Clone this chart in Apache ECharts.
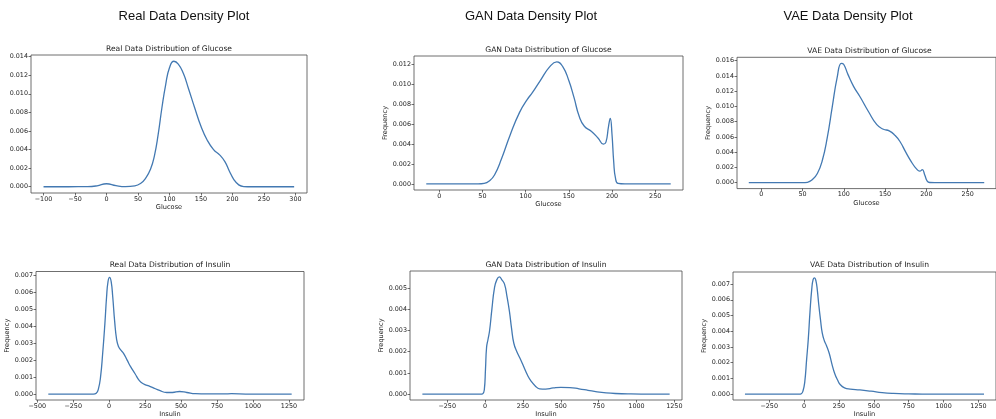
<!DOCTYPE html>
<html>
<head>
<meta charset="utf-8">
<script src="https://cdn.jsdelivr.net/npm/echarts@6/dist/echarts.min.js"></script>
<style>
  html, body { margin: 0; padding: 0; background: #fff; }
  #chart { width: 996px; height: 419px; }
</style>
</head>
<body>
<div id="chart"></div>
<script>
// data (kde curves)
var realGlucoseX = [-100,-60,-30,-15,0,15,30,45,55,62,70,76,82,88,94,100,107,114,122,130,140,150,160,170,180,188,195,202,210,218,230,260,298];
var realGlucoseY = [0,0,0.00001,0.0001,0.00032,0.00012,0.00002,0.0001,0.0004,0.0009,0.0019,0.0033,0.0056,0.0085,0.011,0.0128,0.0135,0.0132,0.0122,0.0106,0.0085,0.0065,0.005,0.0040,0.0034,0.0027,0.0017,0.0008,0.0002,0.00002,0,0,0];

var ganGlucoseX = [-15,20,45,52,58,64,72,82,93,102,108,117,128,136,143,150,156,162,168,176,184,190,193,196,198,200,202,204,207,215,268];
var ganGlucoseY = [0,0,0,0.00005,0.0003,0.0009,0.0025,0.0049,0.0072,0.0085,0.0092,0.0104,0.0118,0.01228,0.0118,0.0104,0.0087,0.0068,0.0058,0.0053,0.0046,0.0040,0.0042,0.0058,0.0066,0.0050,0.0022,0.0006,0.00005,0,0];

var vaeGlucoseX = [-15,20,50,56,62,68,74,80,86,92,97,100,105,112,120,130,140,148,155,162,168,175,182,188,192,195,198,201,204,210,270];
var vaeGlucoseY = [0,0,0,0.00005,0.0004,0.0012,0.0029,0.0059,0.0099,0.0138,0.01565,0.0155,0.0142,0.0126,0.0112,0.0093,0.0076,0.0070,0.0068,0.0062,0.0054,0.0040,0.0027,0.0018,0.0015,0.0017,0.0010,0.0002,0.00002,0,0];

var realInsulinX = [-423,-200,-110,-90,-75,-60,-45,-30,-18,-8,3,14,25,38,52,65,80,100,125,150,180,210,240,270,300,350,400,440,490,540,600,680,800,850,950,1100,1269];
var realInsulinY = [0,0,0,0.00005,0.0003,0.0010,0.0024,0.0041,0.0057,0.0066,0.00685,0.0066,0.0057,0.0043,0.0032,0.0028,0.0026,0.0024,0.0020,0.0016,0.0012,0.0008,0.0006,0.0005,0.0004,0.00022,0.0001,0.0001,0.00016,0.0001,0.00003,0.00002,0.00002,0.00003,0.00001,0,0];

var ganInsulinX = [-414,-100,-30,-15,-5,3,10,20,30,45,62,78,95,110,128,145,161,175,190,210,230,255,280,305,330,360,400,450,500,560,620,680,740,800,860,950,1100,1219];
var ganInsulinY = [0,0,0,0.00002,0.0002,0.0012,0.0022,0.0026,0.0030,0.0040,0.0050,0.0054,0.00553,0.0054,0.0052,0.0046,0.0039,0.0031,0.0024,0.0020,0.0017,0.0013,0.0009,0.0006,0.0004,0.00025,0.00024,0.00029,0.00032,0.00031,0.00025,0.00018,0.00011,0.00006,0.00003,0.00001,0,0];

var vaeInsulinX = [-424,-100,-35,-20,-8,5,18,30,42,55,65,75,85,95,105,118,130,145,160,180,200,220,240,260,290,330,400,480,560,640,750,900,1100,1290];
var vaeInsulinY = [0,0,0,0.00003,0.0002,0.0008,0.0022,0.0035,0.0052,0.0067,0.0073,0.0074,0.0072,0.0066,0.0057,0.0047,0.0039,0.0034,0.0031,0.0026,0.0019,0.0013,0.0009,0.0006,0.0004,0.00032,0.00027,0.00019,0.0001,0.00005,0.00002,0,0,0];

// tick labels
var glucoseTicksA = [-100,-50,0,50,100,150,200,250,300];
var glucoseTicksB = [0,50,100,150,200,250];
var insulinTicksA = [-500,-250,0,250,500,750,1000,1250];
var insulinTicksB = [-250,0,250,500,750,1000,1250];
var yTicks14 = [0,0.002,0.004,0.006,0.008,0.010,0.012,0.014];
var yTicks12 = [0,0.002,0.004,0.006,0.008,0.010,0.012];
var yTicks16 = [0,0.002,0.004,0.006,0.008,0.010,0.012,0.014,0.016];
var yTicks7 = [0,0.001,0.002,0.003,0.004,0.005,0.006,0.007];
var yTicks5 = [0,0.001,0.002,0.003,0.004,0.005];

var plotTitles = ['Real Data Distribution of Glucose','GAN Data Distribution of Glucose','VAE Data Distribution of Glucose',
                  'Real Data Distribution of Insulin','GAN Data Distribution of Insulin','VAE Data Distribution of Insulin'];
var headTitles = ['Real Data Density Plot','GAN Data Density Plot','VAE Data Density Plot'];

function pairs(xs, ys) {
    var out = [];
    for (var i = 0; i < xs.length; i++) out.push([xs[i], ys[i]]);
    return out;
}
function fmtX(v) { return (v < 0 ? '\u2212' + Math.abs(v) : '' + v); }
function fmtY(v) { return v.toFixed(3); }

var tickFont = { fontFamily: 'DejaVu Sans', fontSize: 6.4, color: '#222' };

// panel layout (pixels) and axis ranges
var panels = [
  { left: 31,  top: 55,  width: 276, height: 138, xmin: -119.9, xmax: 318.4, ymin: -0.000675, ymax: 0.014175, xt: glucoseTicksA, yt: yTicks14, xs: realGlucoseX, ys: realGlucoseY, xname: 'Glucose', yname: '' },
  { left: 414, top: 56,  width: 269, height: 134, xmin: -29.2,  xmax: 282.2, ymin: -0.000613, ymax: 0.01287,  xt: glucoseTicksB, yt: yTicks12, xs: ganGlucoseX,  ys: ganGlucoseY,  xname: 'Glucose', yname: 'Frequency' },
  { left: 737, top: 57.3, width: 265, height: 131.3, xmin: -29.25, xmax: 284.25, ymin: -0.00078, ymax: 0.01644, xt: glucoseTicksB, yt: yTicks16, xs: vaeGlucoseX, ys: vaeGlucoseY, xname: 'Glucose', yname: 'Frequency' },
  { left: 36,  top: 271.5, width: 268, height: 134.3, xmin: -508.6, xmax: 1354.6, ymin: -0.00034, ymax: 0.0072, xt: insulinTicksA, yt: yTicks7, xs: realInsulinX, ys: realInsulinY, xname: 'Insulin', yname: 'Frequency' },
  { left: 410, top: 271, width: 272, height: 135.9, xmin: -495.7, xmax: 1300.7, ymin: -0.000277, ymax: 0.005807, xt: insulinTicksB, yt: yTicks5, xs: ganInsulinX, ys: ganInsulinY, xname: 'Insulin', yname: 'Frequency' },
  { left: 733, top: 272, width: 273, height: 133.8, xmin: -509.7, xmax: 1375.7, ymin: -0.00037, ymax: 0.00777, xt: insulinTicksB, yt: yTicks7, xs: vaeInsulinX, ys: vaeInsulinY, xname: 'Insulin', yname: 'Frequency' }
];
var titleTops = [45, 46, 47.5, 261.5, 261, 261.5];
var headCenters = [184, 531, 848];

var grid = [], xAxis = [], yAxis = [], series = [], title = [];

panels.forEach(function (p, i) {
    grid.push({ left: p.left, top: p.top, width: p.width, height: p.height,
        show: true, borderColor: '#4a4a4a', borderWidth: 0.8, backgroundColor: '#fff' });
    xAxis.push({
        type: 'value', gridIndex: i, min: p.xmin, max: p.xmax, position: 'bottom',
        splitLine: { show: false }, axisLine: { show: false, onZero: false },
        axisTick: { show: true, length: 2.5, customValues: p.xt, lineStyle: { color: '#333', width: 0.7 } },
        axisLabel: Object.assign({ customValues: p.xt, margin: 3, formatter: fmtX }, tickFont),
        name: p.xname, nameLocation: 'middle', nameGap: 11,
        nameTextStyle: { fontFamily: 'DejaVu Sans', fontSize: 6.6, color: '#222' }
    });
    yAxis.push({
        type: 'value', gridIndex: i, min: p.ymin, max: p.ymax, position: 'left',
        splitLine: { show: false }, axisLine: { show: false, onZero: false },
        axisTick: { show: true, length: 2.5, customValues: p.yt, lineStyle: { color: '#333', width: 0.7 } },
        axisLabel: Object.assign({ customValues: p.yt, margin: 3, formatter: fmtY }, tickFont),
        name: p.yname, nameLocation: 'middle', nameGap: 22,
        nameTextStyle: { fontFamily: 'DejaVu Sans', fontSize: 6.6, color: '#222' }
    });
    series.push({
        type: 'line', xAxisIndex: i, yAxisIndex: i,
        data: pairs(p.xs, p.ys), showSymbol: false, symbol: 'none',
        smooth: 0.5,
        lineStyle: { color: '#4379b2', width: 1.3 }
    });
    title.push({ text: plotTitles[i], left: p.left + p.width / 2, top: titleTops[i], textAlign: 'center', padding: 0,
        textStyle: { fontFamily: 'DejaVu Sans', fontSize: 7.6, fontWeight: 'normal', color: '#222' } });
});

headTitles.forEach(function (t, i) {
    title.push({ text: t, left: headCenters[i], top: 10, textAlign: 'center', padding: 0,
        textStyle: { fontFamily: 'Liberation Sans', fontSize: 13, fontWeight: 'normal', color: '#111' } });
});

var chart = echarts.init(document.getElementById('chart'));
chart.setOption({
    animation: false,
    backgroundColor: '#fff',
    title: title,
    grid: grid,
    xAxis: xAxis,
    yAxis: yAxis,
    series: series
});
</script>
</body>
</html>
